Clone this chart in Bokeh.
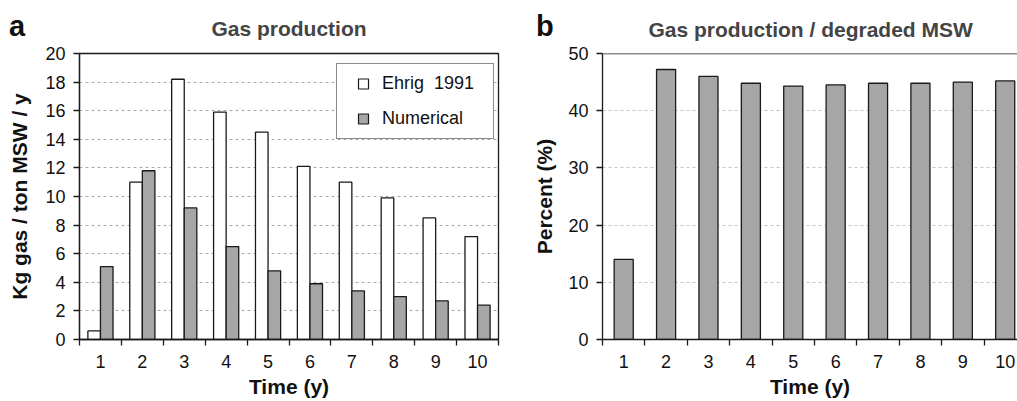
from bokeh.plotting import figure
from bokeh.models import (ColumnDataSource, FixedTicker, Legend, LegendItem, Div,
                          Span, Range1d)
from bokeh.layouts import row
from bokeh.transform import dodge
from bokeh.embed import file_html
from bokeh.resources import INLINE

# ---------------- data ----------------
years = [1, 2, 3, 4, 5, 6, 7, 8, 9, 10]
year_labels = ["1", "2", "3", "4", "5", "6", "7", "8", "9", "10"]
ehrig_1991 = [0.6, 11.0, 18.2, 15.9, 14.5, 12.1, 11.0, 9.9, 8.5, 7.2]
numerical = [5.1, 11.8, 9.2, 6.5, 4.8, 3.9, 3.4, 3.0, 2.7, 2.4]
percent_degraded = [14.0, 47.2, 46.0, 44.8, 44.3, 44.5, 44.8, 44.8, 45.0, 45.2]
y_ticks_a = [0, 2, 4, 6, 8, 10, 12, 14, 16, 18, 20]
y_ticks_b = [0, 10, 20, 30, 40, 50]

FONT = "Liberation Sans"
GRAY = "#a6a6a6"
EDGE = "#1a1a1a"


def style(p, yticks):
    p.background_fill_color = "white"
    p.border_fill_color = "white"
    p.title.text_font = FONT
    p.title.text_font_size = "21px"
    p.title.text_font_style = "bold"
    p.title.align = "center"
    p.xgrid.grid_line_color = None
    p.ygrid.grid_line_color = "#a8a8a8"
    p.ygrid.grid_line_dash = "3 3"
    p.ygrid.grid_line_width = 1
    p.ygrid.ticker = FixedTicker(ticks=yticks)
    for ax in (p.xaxis[0], p.yaxis[0]):
        ax.axis_line_color = EDGE
        ax.axis_line_width = 1.3
        ax.major_label_text_font = FONT
        ax.major_label_text_font_size = "18px"
        ax.major_label_text_color = "#111111"
        ax.axis_label_text_font = FONT
        ax.axis_label_text_font_size = "21px"
        ax.axis_label_text_font_style = "bold"
        ax.axis_label_text_color = "#111111"
    # x axis: labels at centres, ticks at category boundaries
    xa = p.xaxis[0]
    xa.ticker = FixedTicker(ticks=years, minor_ticks=[y - 0.5 for y in years] + [10.5])
    xa.major_label_overrides = {y: l for y, l in zip(years, year_labels)}
    xa.major_tick_in = 0
    xa.major_tick_out = 0
    xa.minor_tick_in = 0
    xa.minor_tick_out = 6
    xa.minor_tick_line_color = EDGE
    xa.minor_tick_line_width = 1.3
    xa.major_label_standoff = 9
    xa.axis_label_standoff = 4
    xa.axis_label = "Time (y)"
    ya = p.yaxis[0]
    ya.ticker = FixedTicker(ticks=yticks)
    ya.minor_tick_line_color = None
    ya.major_tick_in = 0
    ya.major_tick_out = 6
    ya.major_tick_line_color = EDGE
    ya.major_tick_line_width = 1.3
    ya.major_label_standoff = 8


def panel_letter(letter, left):
    return Div(text=letter, width=30, height=34,
               styles={"position": "absolute", "left": f"{left}px", "top": "12px",
                       "z-index": "10", "font-family": FONT, "font-size": "29px",
                       "font-weight": "bold", "line-height": "29px",
                       "color": "#111111", "margin": "0", "padding": "0"})


# ---------------- panel a ----------------
src_a = ColumnDataSource(dict(x=years, ehrig=ehrig_1991, num=numerical))
pa = figure(width=520, height=401, output_backend="svg", toolbar_location=None,
            x_range=Range1d(0.5, 10.5), y_range=Range1d(0, 20),
            title="Gas production",
            min_border_left=79, min_border_right=22, min_border_top=52,
            min_border_bottom=62)
style(pa, y_ticks_a)
pa.title.standoff = 28
pa.outline_line_color = EDGE
pa.outline_line_width = 1.3
pa.yaxis[0].axis_label = "Kg gas / ton MSW / y"
pa.yaxis[0].axis_label_standoff = 11

pa.vbar(x=dodge("x", -0.15, range=pa.x_range), top="ehrig", width=0.3, source=src_a,
        fill_color="white", line_color=EDGE, line_width=1.3)
pa.vbar(x=dodge("x", 0.15, range=pa.x_range), top="num", width=0.3, source=src_a,
        fill_color=GRAY, line_color=EDGE, line_width=1.3)

# square legend swatches: zero-size markers on the same data (invisible in the plot)
k1 = pa.scatter(x=dodge("x", -0.15, range=pa.x_range), y="ehrig", source=src_a,
                marker="square", size=0, fill_color="white", line_color=EDGE,
                line_width=1.2)
k2 = pa.scatter(x=dodge("x", 0.15, range=pa.x_range), y="num", source=src_a,
                marker="square", size=0, fill_color=GRAY, line_color=EDGE,
                line_width=1.2)
leg = Legend(items=[LegendItem(label="Ehrig  1991", renderers=[k1], index=0),
                    LegendItem(label="Numerical", renderers=[k2], index=0)],
             location=(257, 200), orientation="vertical",
             padding=7, spacing=10, label_height=20, label_width=104,
             glyph_width=38, glyph_height=25, label_standoff=0,
             border_line_color=EDGE, border_line_width=1.3,
             background_fill_color="white", background_fill_alpha=1.0,
             label_text_font=FONT, label_text_font_size="18px",
             label_text_color="#111111", margin=0)
pa.add_layout(leg, "center")

# ---------------- panel b ----------------
src_b = ColumnDataSource(dict(x=years, pct=percent_degraded))
pb = figure(width=497, height=401, output_backend="svg", toolbar_location=None,
            x_range=Range1d(0.5, 10.29), y_range=Range1d(0, 50),
            title="Gas production /  degraded MSW",
            min_border_left=82, min_border_right=0, min_border_top=50,
            min_border_bottom=62)
style(pb, y_ticks_b)
pb.title.standoff = 26
pb.title.align = "left"
pb.title.offset = 46
pb.outline_line_color = None
pb.yaxis[0].axis_label = "Percent (%)"
pb.yaxis[0].axis_label_standoff = 9
pb.ygrid.grid_line_color = "#c4c4c4"
pb.vbar(x="x", top="pct", width=0.45, source=src_b,
        fill_color=GRAY, line_color=EDGE, line_width=1.3)
pb.add_layout(Span(location=50, dimension="width", line_color=EDGE, line_width=1.3))

layout = row(pa, pb, panel_letter("a", 9), panel_letter("b", 536))
open("out.html", "w").write(file_html(layout, INLINE))
